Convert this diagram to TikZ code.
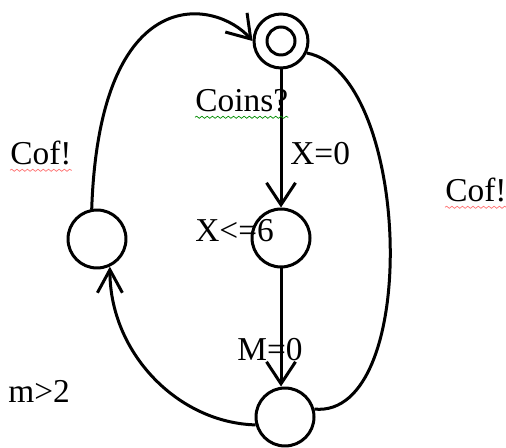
\documentclass[tikz,border=0pt]{standalone}
\usepackage{fontspec}
\setmainfont{Liberation Serif}
\usepackage{tikz}
\usetikzlibrary{arrows.meta, positioning, decorations.pathmorphing}
\tikzset{
  locnode/.style={draw=black, circle, line width=0.06cm,
    inner sep=0pt, minimum size=1.16cm},
  initloc/.style={locnode, minimum size=1.08cm},
  innerloc/.style={locnode, minimum size=0.56cm},
  transarrow/.style={-{Straight Barb[length=0.44cm, width=0.58cm]},
    line width=0.06cm},
  transline/.style={line width=0.06cm},
  guardlbl/.style={anchor=base west, inner sep=0pt,
    font=\fontsize{19}{22}\selectfont},
  spellred/.style={draw=red!55, line width=0.4pt, decorate,
    decoration={snake, amplitude=0.6pt, segment length=3pt}},
  spellgreen/.style={spellred, draw=green!55!black}
}
\begin{document}
\begin{tikzpicture}[x=0.02cm, y=-0.02cm]
  \useasboundingbox (0,0) rectangle (506,448);

  %% Locations
  \node[initloc] (idle) at (281,41) {};
  \node[innerloc] (idlein) at (idle.center) {};
  \node[locnode] (brew) at (281,238) {};
  \node[locnode] (serve) at (97,239) {};
  \node[locnode] (check) at (285,417) {};

  %% Transitions
  \draw[transarrow] (idle) -- (brew);
  \draw[transarrow] (brew.south) -- (brew.south |- check.north);
  \draw[transarrow] (serve.100) .. controls +(8,-230) and +(-37,-42) .. (idle.west);
  \draw[transline] (idle.-25) .. controls +(105,20) and +(107,10) .. (check.15);
  \draw[transarrow, -{Straight Barb[length=0.46cm, width=0.5cm]}]
    (check.195) .. controls +(-77,-2) and +(0,87) .. (serve.-65);

  %% Labels
  \node[guardlbl] (coinslbl) at (195,112) {Coins?};
  \node[guardlbl] (xzerolbl) at (290,165) {X=0};
  \node[guardlbl] (xinvlbl) at (195,242) {X<=6};
  \node[guardlbl] (mzerolbl) at (237,360) {M=0};
  \node[guardlbl] (coflbl) at (10,165) {Cof!};
  \node[guardlbl] (cofrlbl) at (445,202) {Cof!};
  \node[guardlbl] (mgtlbl) at (8,402) {m>2};

  %% Spell-check marks
  \draw[spellgreen] ([yshift=-3pt]coinslbl.base west) -- ([yshift=-3pt]coinslbl.base east);
  \draw[spellred] ([yshift=-3pt]coflbl.base west) -- ([yshift=-3pt]coflbl.base east);
  \draw[spellred] ([yshift=-3pt]cofrlbl.base west) -- ([yshift=-3pt]cofrlbl.base east);

\end{tikzpicture}
\end{document}
